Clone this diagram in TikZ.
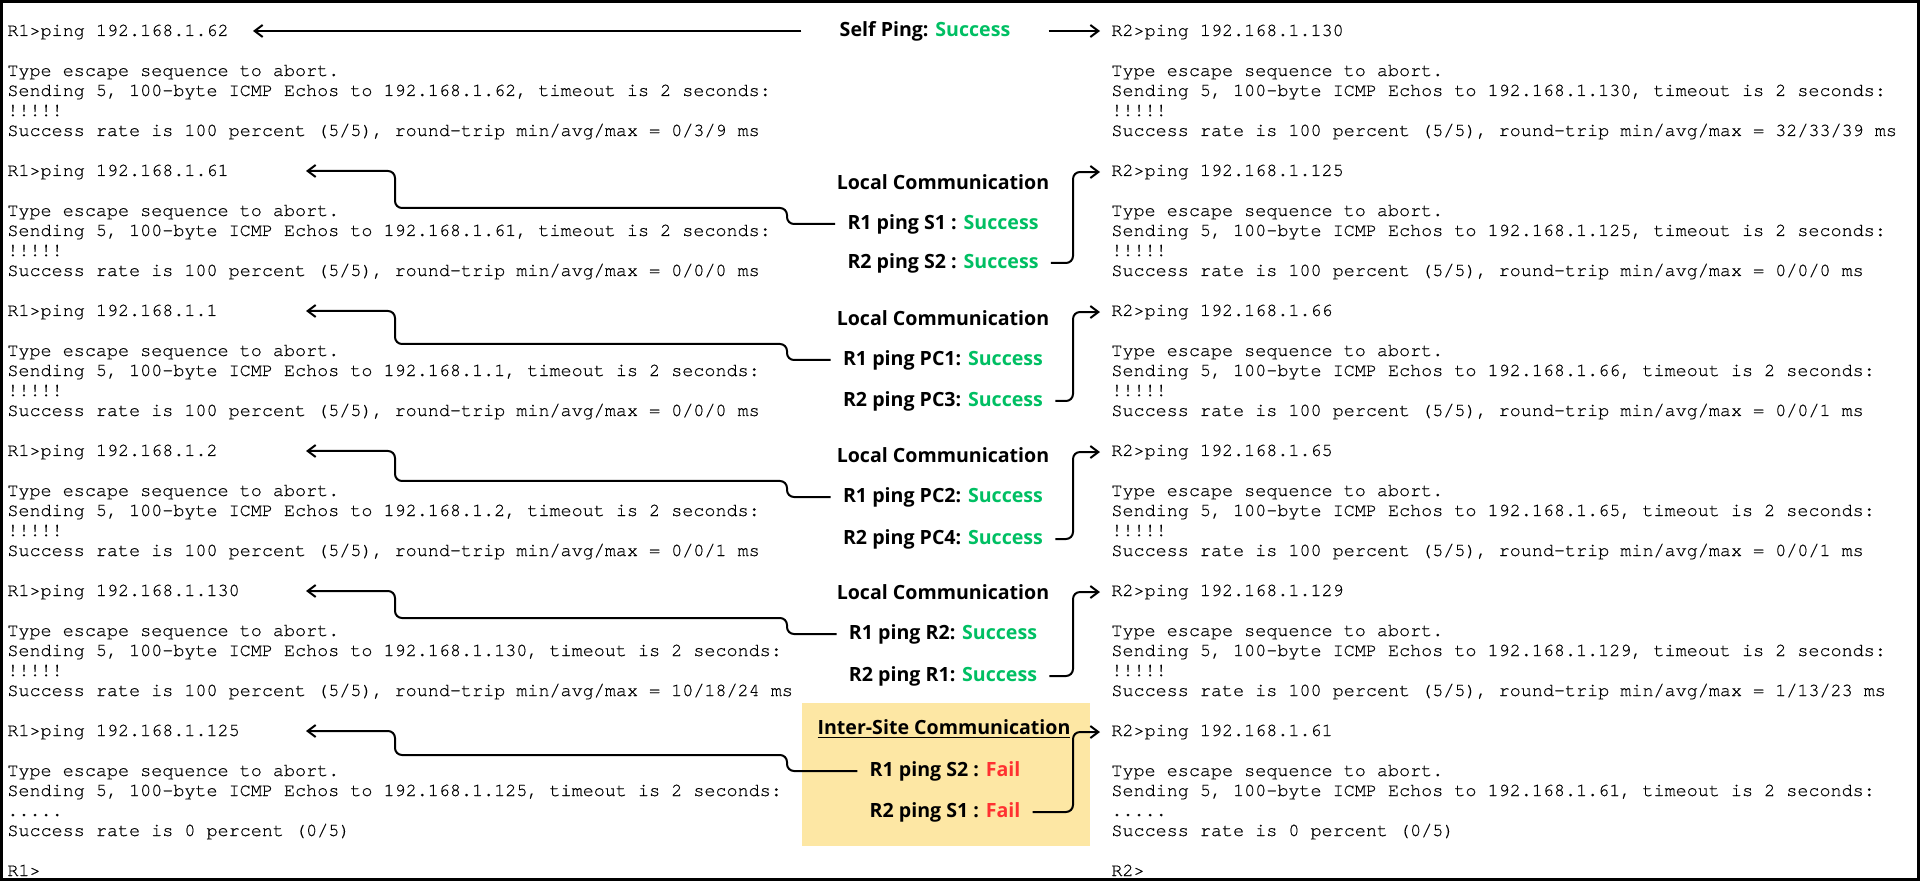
\documentclass[tikz,border=0pt]{standalone}
\usepackage{fontspec}
\usetikzlibrary{arrows.meta}
\newfontfamily\termfont[FakeBold=0.5]{TeX Gyre Cursor}
\newfontfamily\tagfont{Open Sans}
\definecolor{okgreen}{HTML}{00BF63}
\definecolor{failred}{HTML}{FF3131}
\definecolor{notebg}{HTML}{FDE7A4}
\newcommand{\okay}{\textcolor{okgreen}{Success}}
\newcommand{\failed}{\textcolor{failred}{Fail}}

\begin{document}
\begin{tikzpicture}[x=0.5pt, y=-0.5pt,
    term/.style={font=\termfont\fontsize{9.22pt}{10pt}\selectfont, text=black, anchor=base west, inner sep=0pt, align=left},
    prompt/.style={term, inner xsep=5.5pt},
    tag/.style={font=\tagfont\bfseries\fontsize{9.8pt}{12pt}\selectfont, inner ysep=1pt, inner xsep=6pt},
    link/.style={line width=1pt, rounded corners=3.5pt, -{Straight Barb[length=4pt,width=6pt]}}]
    % frame
    \useasboundingbox (0,0) rectangle (1920,881);
    \draw[line width=1.25pt] (1.5,1.5) rectangle (1918.5,879.5);

    % R1 output (body nodes sit on their last line)
    \node[term] (r1p1) at (7,36) {R1>ping 192.168.1.62};
    \node[term] (r1b1) at (7,136) {Type escape sequence to abort.\\Sending 5, 100-byte ICMP Echos to 192.168.1.62, timeout is 2 seconds:\\!!!!!\\Success rate is 100 percent (5/5), round-trip min/avg/max = 0/3/9 ms};
    \node[term] (r1p2) at (7,176) {R1>ping 192.168.1.61};
    \node[term] (r1b2) at (7,276) {Type escape sequence to abort.\\Sending 5, 100-byte ICMP Echos to 192.168.1.61, timeout is 2 seconds:\\!!!!!\\Success rate is 100 percent (5/5), round-trip min/avg/max = 0/0/0 ms};
    \node[term] (r1p3) at (7,316) {R1>ping 192.168.1.1};
    \node[term] (r1b3) at (7,416) {Type escape sequence to abort.\\Sending 5, 100-byte ICMP Echos to 192.168.1.1, timeout is 2 seconds:\\!!!!!\\Success rate is 100 percent (5/5), round-trip min/avg/max = 0/0/0 ms};
    \node[term] (r1p4) at (7,456) {R1>ping 192.168.1.2};
    \node[term] (r1b4) at (7,556) {Type escape sequence to abort.\\Sending 5, 100-byte ICMP Echos to 192.168.1.2, timeout is 2 seconds:\\!!!!!\\Success rate is 100 percent (5/5), round-trip min/avg/max = 0/0/1 ms};
    \node[term] (r1p5) at (7,596) {R1>ping 192.168.1.130};
    \node[term] (r1b5) at (7,696) {Type escape sequence to abort.\\Sending 5, 100-byte ICMP Echos to 192.168.1.130, timeout is 2 seconds:\\!!!!!\\Success rate is 100 percent (5/5), round-trip min/avg/max = 10/18/24 ms};
    \node[term] (r1p6) at (7,736) {R1>ping 192.168.1.125};
    \node[term] (r1b6) at (7,836) {Type escape sequence to abort.\\Sending 5, 100-byte ICMP Echos to 192.168.1.125, timeout is 2 seconds:\\.....\\Success rate is 0 percent (0/5)};
    \node[term] (r1end) at (7,876) {R1>};

    % R2 output
    \node[prompt] (r2p1) at (1100,36) {R2>ping 192.168.1.130};
    \node[term] (r2b1) at (1111,136) {Type escape sequence to abort.\\Sending 5, 100-byte ICMP Echos to 192.168.1.130, timeout is 2 seconds:\\!!!!!\\Success rate is 100 percent (5/5), round-trip min/avg/max = 32/33/39 ms};
    \node[prompt] (r2p2) at (1100,176) {R2>ping 192.168.1.125};
    \node[term] (r2b2) at (1111,276) {Type escape sequence to abort.\\Sending 5, 100-byte ICMP Echos to 192.168.1.125, timeout is 2 seconds:\\!!!!!\\Success rate is 100 percent (5/5), round-trip min/avg/max = 0/0/0 ms};
    \node[prompt] (r2p3) at (1100,316) {R2>ping 192.168.1.66};
    \node[term] (r2b3) at (1111,416) {Type escape sequence to abort.\\Sending 5, 100-byte ICMP Echos to 192.168.1.66, timeout is 2 seconds:\\!!!!!\\Success rate is 100 percent (5/5), round-trip min/avg/max = 0/0/1 ms};
    \node[prompt] (r2p4) at (1100,456) {R2>ping 192.168.1.65};
    \node[term] (r2b4) at (1111,556) {Type escape sequence to abort.\\Sending 5, 100-byte ICMP Echos to 192.168.1.65, timeout is 2 seconds:\\!!!!!\\Success rate is 100 percent (5/5), round-trip min/avg/max = 0/0/1 ms};
    \node[prompt] (r2p5) at (1100,596) {R2>ping 192.168.1.129};
    \node[term] (r2b5) at (1111,696) {Type escape sequence to abort.\\Sending 5, 100-byte ICMP Echos to 192.168.1.129, timeout is 2 seconds:\\!!!!!\\Success rate is 100 percent (5/5), round-trip min/avg/max = 1/13/23 ms};
    \node[prompt] (r2p6) at (1100,736) {R2>ping 192.168.1.61};
    \node[term] (r2b6) at (1111,836) {Type escape sequence to abort.\\Sending 5, 100-byte ICMP Echos to 192.168.1.61, timeout is 2 seconds:\\.....\\Success rate is 0 percent (0/5)};
    \node[term] (r2end) at (1111,876) {R2>};

    % arrow tips and bends on the R1 side
    \coordinate (tip1) at (253,31);
    \coordinate (tip2) at (306,171);
    \coordinate (tip3) at (306,311);
    \coordinate (tip4) at (306,451);
    \coordinate (tip5) at (306,591);
    \coordinate (tip6) at (306,731);
    \coordinate (bend) at (395,0);
    \coordinate (jog) at (787,0);

    % self ping
    \node[tag, inner xsep=19pt] (self) at (925,31) {Self Ping: \okay};
    \draw[link] (self.west) -- (tip1);
    \draw[link] (self.east) -- (self.east -| r2p1.west);

    % local communication
    \node[tag] (hdr2) at (943,182) {Local Communication};
    \node[tag] (r1q2) at (943,224) {R1 ping S1 : \okay};
    \node[tag] (r2q2) at (943,263) {R2 ping S2 : \okay};
    \node[tag] (hdr3) at (943,318) {Local Communication};
    \node[tag] (r1q3) at (943,360) {R1 ping PC1: \okay};
    \node[tag] (r2q3) at (943,401) {R2 ping PC3: \okay};
    \node[tag] (hdr4) at (943,455) {Local Communication};
    \node[tag] (r1q4) at (943,497) {R1 ping PC2: \okay};
    \node[tag] (r2q4) at (943,539) {R2 ping PC4: \okay};
    \node[tag] (hdr5) at (943,592) {Local Communication};
    \node[tag] (r1q5) at (943,634) {R1 ping R2: \okay};
    \node[tag] (r2q5) at (943,676) {R2 ping R1: \okay};

    % inter-site communication
    \fill[notebg] (802,703) rectangle (1090,846);
    \node[tag] (hdr6) at (944,729) {\underline{Inter-Site Communication}};
    \node[tag] (r1q6) at (945,771) {R1 ping S2 : \failed};
    \node[tag] (r2q6) at (945,812) {R2 ping S1 : \failed};

    % connectors
    \foreach \k in {2,...,6} {
        \draw[link] (r1q\k.west) -- (r1q\k.west -| jog) -- ++(0,-16) -| (tip\k -| bend) -- (tip\k);
        \draw[link] (r2q\k.east) -| ([xshift=-13.5pt]r2p\k.west) -- (r2p\k.west);
    }
\end{tikzpicture}
\end{document}
